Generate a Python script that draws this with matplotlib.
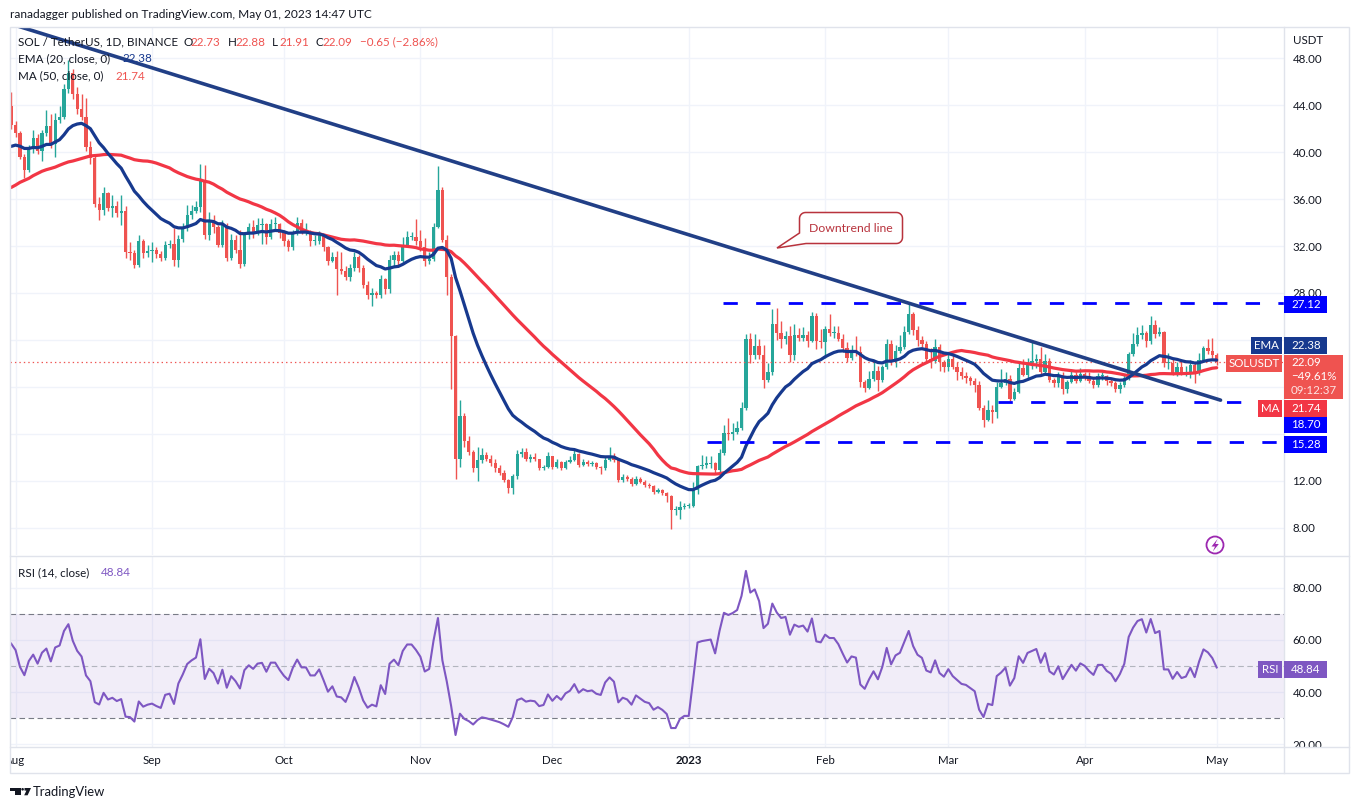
import numpy as np
import pandas as pd
import matplotlib
matplotlib.use("Agg")
import matplotlib.pyplot as plt
from matplotlib.patches import Rectangle, Polygon, Circle
from matplotlib.transforms import Bbox, TransformedBbox

plt.rcParams['font.family'] = ['Lato', 'DejaVu Sans']
plt.rcParams['lines.scale_dashes'] = False

# ------------------------------------------------------------------ data
start_date = "2022-07-31"
first_open = 43.9
closes = [
    42.3, 41.6, 39.6, 38.5, 40.3, 41.2, 40.1, 41.6, 42.2, 40.7,
    42.7, 43.0, 45.4, 46.7, 44.9, 43.7, 43.0, 40.4, 39.5, 35.6,
    35.1, 36.5, 35.2, 35.4, 34.8, 35.0, 31.5, 31.4, 30.4, 32.4,
    31.4, 31.6, 31.7, 31.3, 31.0, 32.1, 32.2, 30.8, 32.6, 33.5,
    34.6, 35.0, 35.3, 37.5, 32.9, 34.2, 33.6, 32.1, 33.8, 31.0,
    32.5, 31.7, 30.5, 32.9, 33.6, 33.1, 33.8, 33.9, 32.8, 33.9,
    33.9, 33.1, 32.4, 31.9, 33.1, 34.0, 33.2, 33.2, 32.4, 32.4,
    32.9, 31.9, 30.7, 31.1, 30.0, 29.9, 29.4, 30.1, 31.1, 30.1,
    28.7, 27.8, 28.0, 27.8, 29.2, 28.3, 30.8, 31.2, 30.7, 32.1,
    32.8, 32.8, 32.4, 31.9, 30.7, 30.9, 33.6, 36.8, 32.5, 29.4,
    24.3, 13.9, 17.5, 15.4, 14.5, 13.1, 13.8, 14.2, 13.9, 13.5,
    13.1, 12.7, 12.1, 11.4, 12.4, 14.3, 14.5, 13.9, 14.0, 13.9,
    13.1, 13.2, 14.1, 13.2, 13.6, 13.1, 13.6, 13.8, 14.3, 13.4,
    13.65, 13.45, 13.5, 13.2, 13.1, 13.8, 14.1, 13.8, 12.1, 12.35,
    12.2, 11.75, 12.2, 11.95, 11.7, 11.6, 11.1, 11.2, 11.0, 10.7,
    9.5, 9.5, 9.8, 9.9, 9.9, 11.2, 13.3, 13.4, 13.45, 13.5,
    12.9, 14.4, 16.1, 16.0, 16.2, 16.5, 18.2, 24.1, 22.7, 23.5,
    22.7, 20.6, 21.3, 25.4, 24.6, 24.1, 24.3, 22.7, 24.4, 24.2,
    24.4, 23.9, 26.0, 23.9, 23.8, 24.9, 24.6, 24.6, 24.1, 23.3,
    22.5, 23.1, 23.0, 20.4, 19.9, 20.7, 21.4, 20.6, 21.7, 23.7,
    22.1, 23.1, 23.4, 24.7, 26.2, 24.85, 24.0, 23.7, 22.4, 22.2,
    23.4, 22.1, 21.7, 22.4, 21.7, 21.3, 20.9, 20.8, 20.5, 20.2,
    18.2, 17.2, 18.05, 17.9, 20.0, 20.3, 20.7, 19.0, 19.6, 21.6,
    21.0, 22.0, 22.2, 22.4, 21.3, 22.2, 20.6, 20.3, 21.0, 19.8,
    20.4, 21.0, 20.5, 21.1, 20.9, 20.5, 20.2, 20.9, 20.9, 20.5,
    20.3, 19.8, 20.2, 20.8, 22.8, 23.7, 24.4, 24.6, 23.9, 25.3,
    24.5, 24.7, 22.0, 22.0, 21.2, 21.7, 21.2, 21.3, 21.9, 21.2,
    22.3, 23.3, 23.1, 22.73, 22.09,
]
highs = [
    45.1, 42.6, 41.8, 39.8, 40.6, 41.9, 41.5, 41.9, 43.6, 43.2,
    43.3, 43.9, 45.8, 47.8, 47.1, 45.5, 44.9, 44.6, 40.9, 39.8,
    36.2, 37.0, 36.6, 36.3, 35.8, 36.3, 35.4, 32.3, 31.7, 32.9,
    32.6, 32.1, 32.3, 31.9, 31.6, 32.4, 32.5, 33.5, 32.9, 34.0,
    35.5, 35.5, 35.8, 39.0, 38.9, 34.9, 34.6, 33.8, 34.2, 34.0,
    33.0, 32.9, 33.4, 33.2, 34.0, 34.2, 34.4, 34.4, 34.0, 34.3,
    34.5, 34.0, 33.4, 32.6, 33.4, 34.5, 34.3, 34.0, 33.4, 32.9,
    33.3, 33.0, 32.0, 31.5, 31.6, 31.5, 30.3, 30.5, 31.5, 31.2,
    30.4, 29.0, 28.4, 28.2, 29.5, 29.3, 31.2, 31.6, 31.6, 32.8,
    33.3, 33.2, 34.3, 33.4, 32.7, 31.5, 34.0, 38.8, 37.0, 32.9,
    29.6, 24.4, 18.9, 17.8, 15.8, 14.6, 14.9, 14.8, 14.5, 14.2,
    13.9, 13.4, 12.9, 12.2, 12.6, 14.6, 14.8, 14.8, 14.3, 14.4,
    13.9, 13.4, 14.5, 14.1, 13.9, 13.7, 13.8, 14.1, 14.6, 14.4,
    13.9, 13.8, 13.7, 13.6, 13.3, 14.0, 14.9, 14.4, 13.9, 12.6,
    12.5, 12.3, 12.4, 12.3, 12.1, 11.8, 11.7, 11.4, 11.3, 11.1,
    10.8, 9.9, 10.3, 10.1, 10.1, 11.9, 13.4, 14.2, 14.1, 14.1,
    13.6, 14.7, 16.8, 17.4, 16.9, 17.1, 18.7, 24.5, 24.6, 24.5,
    24.1, 23.6, 22.0, 26.6, 26.7, 25.6, 24.8, 25.2, 25.4, 25.0,
    25.1, 24.8, 26.4, 26.3, 24.9, 25.2, 26.2, 25.2, 25.2, 24.5,
    23.8, 23.6, 24.3, 23.5, 20.6, 21.4, 22.3, 21.8, 21.9, 24.1,
    24.0, 23.6, 24.4, 25.2, 27.1, 26.4, 25.2, 24.3, 23.9, 23.3,
    24.1, 23.7, 22.3, 22.8, 22.7, 22.1, 21.7, 21.3, 20.9, 20.8,
    20.5, 18.5, 18.9, 18.5, 20.4, 21.5, 21.3, 21.0, 19.9, 22.2,
    22.4, 22.5, 23.9, 22.8, 23.4, 22.8, 22.5, 20.8, 21.3, 21.3,
    20.6, 21.5, 21.3, 21.6, 21.3, 21.3, 20.8, 21.2, 21.3, 21.0,
    20.8, 20.5, 20.4, 21.0, 23.0, 24.6, 25.1, 25.3, 24.8, 26.0,
    25.7, 25.1, 24.8, 22.9, 22.4, 22.1, 22.3, 21.8, 22.3, 22.1,
    22.9, 23.5, 24.1, 24.2, 22.88,
]
lows = [
    42.0, 41.3, 39.4, 37.8, 38.3, 39.9, 39.8, 39.2, 41.4, 40.3,
    39.6, 42.5, 42.8, 45.0, 44.5, 43.2, 42.7, 40.1, 39.0, 35.3,
    34.2, 34.6, 35.0, 34.5, 34.5, 33.8, 31.0, 30.8, 30.1, 30.2,
    31.0, 31.1, 30.6, 31.0, 30.7, 30.8, 31.8, 30.3, 30.2, 32.3,
    33.3, 34.3, 34.8, 34.9, 32.6, 32.5, 33.1, 31.9, 31.9, 30.7,
    30.8, 31.4, 30.1, 30.3, 32.6, 32.7, 32.9, 32.2, 32.2, 32.6,
    33.4, 32.7, 32.0, 31.6, 31.7, 32.9, 33.0, 32.9, 32.0, 32.1,
    32.2, 31.6, 30.4, 30.6, 27.8, 29.6, 29.1, 29.0, 29.9, 29.8,
    28.4, 27.5, 26.9, 27.6, 27.6, 27.9, 28.0, 30.3, 30.2, 30.6,
    32.2, 32.5, 32.1, 31.6, 30.3, 30.5, 30.7, 33.5, 32.3, 27.8,
    19.8, 12.2, 13.2, 14.9, 14.2, 12.8, 12.0, 13.5, 13.7, 13.3,
    12.8, 12.5, 11.9, 11.0, 10.9, 12.2, 14.0, 13.7, 13.6, 13.7,
    12.9, 12.9, 13.1, 13.0, 13.1, 12.9, 13.0, 13.5, 13.7, 13.2,
    13.3, 13.3, 13.3, 13.0, 12.6, 12.9, 13.7, 13.6, 11.9, 11.9,
    12.0, 11.6, 11.7, 11.8, 11.5, 11.4, 10.9, 11.0, 10.8, 10.2,
    7.9, 9.1, 8.8, 9.6, 9.7, 9.8, 10.9, 13.0, 13.1, 13.1,
    12.6, 12.8, 14.2, 15.5, 15.5, 16.0, 16.3, 18.0, 22.0, 22.4,
    22.4, 19.9, 20.4, 21.0, 24.0, 23.3, 23.7, 22.1, 22.3, 23.9,
    23.9, 23.4, 23.8, 23.2, 23.3, 22.5, 24.3, 24.2, 23.9, 23.0,
    22.1, 22.3, 22.6, 20.0, 19.6, 19.8, 20.5, 19.7, 20.4, 21.5,
    21.9, 21.7, 22.9, 23.2, 24.5, 24.4, 23.5, 23.4, 22.2, 21.6,
    22.0, 21.4, 21.3, 21.4, 21.5, 20.6, 20.7, 20.3, 20.2, 19.6,
    18.0, 16.6, 17.1, 16.9, 17.4, 19.9, 20.2, 18.8, 18.9, 19.5,
    20.9, 20.7, 21.5, 21.6, 21.1, 21.0, 20.4, 20.0, 20.0, 19.4,
    19.5, 20.3, 20.3, 20.4, 20.6, 20.3, 19.9, 20.0, 20.6, 20.2,
    20.1, 19.6, 19.5, 20.0, 20.6, 22.6, 23.5, 24.1, 23.4, 23.7,
    24.2, 24.3, 21.7, 21.5, 21.0, 20.9, 21.0, 20.9, 20.8, 20.3,
    21.0, 22.1, 22.8, 22.5, 21.91,
]
# closes of 2022-06-01 .. 2022-07-30 (left of the visible window), only used to warm up the indicators
warmup_closes = [
    39.0, 40.5, 39.0, 39.5, 39.7, 40.5, 39.0, 38.5, 37.6, 35.0,
    33.5, 31.5, 28.0, 30.0, 32.0, 29.5, 30.5, 32.5, 35.5, 35.5,
    37.0, 35.0, 38.0, 40.0, 41.0, 38.5, 37.5, 35.0, 34.0, 34.0,
    33.5, 34.0, 34.3, 36.3, 36.0, 36.2, 38.0, 37.3, 37.3, 35.4,
    33.7, 32.4, 35.1, 36.4, 37.9, 39.1, 38.7, 42.3, 41.9, 41.7,
    42.3, 40.9, 40.5, 40.8, 38.5, 38.2, 42.0, 43.6, 43.7, 43.9,
]

price_ticks = [8, 12, 16, 20, 24, 28, 32, 36, 40, 44, 48]
hidden_price_ticks = [16, 20, 24]          # covered by the price-axis label boxes
rsi_ticks = [20, 40, 60, 80]
month_labels = ["Aug", "Sep", "Oct", "Nov", "Dec", "2023", "Feb", "Mar", "Apr", "May"]

# drawings on the chart
trend_dates = ["2022-07-30 00:00", "2023-05-01 21:00"]
trend_prices = [51.01, 18.88]
level_values = [27.12, 18.70, 15.28]
level_start_dates = ["2023-01-08 20:00", "2023-03-12 08:00", "2023-01-05 03:00"]
last_price = 22.09
ema_label, ma_label, rsi_label = "22.38", "21.74", "48.84"

# ------------------------------------------------------------------ layout
W, H, DPI = 1358, 810, 100
origin = pd.Timestamp("2022-08-01")
DAY = pd.Timedelta(days=1)
dates = pd.date_range(start_date, periods=len(closes), freq="D")
x = np.asarray((dates - origin) / DAY, dtype=float)

c = np.array(closes)
o = np.array([first_open] + closes[:-1])
hi = np.maximum(np.array(highs), np.maximum(o, c))
lo = np.minimum(np.array(lows), np.minimum(o, c))

allc = pd.Series(warmup_closes + closes)
nw = len(warmup_closes)
ema = allc.ewm(span=20, adjust=False).mean().values[nw:]
ma = allc.rolling(50).mean().values[nw:]
delta = allc.diff()
gain = delta.clip(lower=0).ewm(alpha=1 / 14, adjust=False).mean()
loss = (-delta.clip(upper=0)).ewm(alpha=1 / 14, adjust=False).mean()
rsi = (100 - 100 / (1 + gain / loss)).values[nw:]

UP, DN = "#26a69a", "#ef5350"
EMA_C, MA_C, TREND_C, LEVEL_C = "#17398e", "#f23645", "#213f86", "#0000ff"
RSI_C, TXT, GRID, BORDER = "#7e57c2", "#131722", "#f0f3fa", "#e0e3eb"
LEG = 8.4

fig = plt.figure(figsize=(W / DPI, H / DPI), dpi=DPI)
fig.patch.set_facecolor("white")


def frac_rect(x0, y0, x1, y1):
    return [x0 / W, 1 - y1 / H, (x1 - x0) / W, (y1 - y0) / H]


def fig_clip(x0, y0, x1, y1):
    return TransformedBbox(Bbox.from_extents(x0 / W, 1 - y1 / H, x1 / W, 1 - y0 / H), fig.transFigure)


ax = fig.add_axes(frac_rect(10, 27, 1284, 555))
ax2 = fig.add_axes(frac_rect(10, 557, 1284, 747), sharex=ax)
XL = (-1.27, 288.3)
ax.set_xlim(*XL)
ax.set_ylim(5.70, 50.64)
ax2.set_ylim(18.85, 91.92)

month_x = np.asarray((pd.date_range("2022-08-01", "2023-05-01", freq="MS") - origin) / DAY, dtype=float)

for a in (ax, ax2):
    for s in a.spines.values():
        s.set_visible(False)
    a.set_facecolor("white")
    a.set_axisbelow(True)
    a.grid(True, color=GRID, lw=1)
    a.yaxis.tick_right()
    a.tick_params(axis="y", length=0, pad=6, labelsize=8.3, labelcolor=TXT)
    a.set_xticks(month_x)

ax.tick_params(axis="x", length=0, labelbottom=False)
ax.set_yticks(price_ticks)
ax.set_yticklabels(["" if v in hidden_price_ticks else f"{v:.2f}" for v in price_ticks])
ax2.set_yticks(rsi_ticks)
ax2.set_yticklabels([f"{v:.2f}" for v in rsi_ticks])
ax2.set_xticklabels(month_labels)
ax2.tick_params(axis="x", length=0, pad=5.5, labelsize=8.3, labelcolor=TXT)
for t in ax2.xaxis.get_major_ticks():
    t.label1.set_clip_on(True)
    t.label1.set_clip_box(fig_clip(10, 747, 1284, 773))
    if t.label1.get_text() == "2023":
        t.label1.set_fontweight("bold")
for t in ax2.yaxis.get_major_ticks():
    t.label2.set_clip_on(True)
    t.label2.set_clip_box(fig_clip(1284, 557, 1349, 747))

# candles
col = np.where(c >= o, UP, DN)
ax.vlines(x, lo, hi, colors=col, lw=1, zorder=2)
body_h = np.maximum(np.abs(c - o), 0.09)
ax.bar(x, body_h, bottom=np.minimum(o, c), width=0.74, color=col, lw=0, zorder=3)

# moving averages
ax.plot(x, ma, color=MA_C, lw=2.3, zorder=4, solid_capstyle="round")
ax.plot(x, ema, color=EMA_C, lw=2.3, zorder=5, solid_capstyle="round")

# downtrend line
tx = [(pd.Timestamp(d) - origin) / DAY for d in trend_dates]
ax.plot(tx, trend_prices, color=TREND_C, lw=2.6, zorder=6, solid_capstyle="round")

# horizontal levels
for lv, sd in zip(level_values, level_start_dates):
    x0 = (pd.Timestamp(sd) - origin) / DAY
    ax.plot([x0, XL[1]], [lv, lv], color=LEVEL_C, lw=2.0, dashes=(10.3, 13.2), zorder=6)

# last price line
ax.axhline(last_price, color=DN, lw=0.9, ls=(0, (1, 2.2)), zorder=3)

# RSI
ax2.axhspan(30, 70, color=RSI_C, alpha=0.1, lw=0, zorder=1)
ax2.axhline(70, color="#787b86", lw=0.8, dashes=(4, 2.5), zorder=2)
ax2.axhline(30, color="#787b86", lw=0.8, dashes=(4, 2.5), zorder=2)
ax2.axhline(50, color="#b2b5be", lw=0.8, dashes=(4, 2.5), zorder=2)
ax2.plot(x, rsi, color=RSI_C, lw=1.5, zorder=3)

# ------------------------------------------------------------------ overlay (pixel coords)
ov = fig.add_axes([0, 0, 1, 1])
ov.set_xlim(0, W)
ov.set_ylim(H, 0)
ov.axis("off")
ov.set_zorder(10)


def box(x0, y0, x1, y1, color):
    ov.add_patch(Rectangle((x0, y0), x1 - x0, y1 - y0, facecolor=color, edgecolor="none", zorder=3))


def txt(xp, yp, s, color=TXT, size=8.3, ha="left", **kw):
    ov.text(xp, yp, s, color=color, fontsize=size, ha=ha, va="center", zorder=4, **kw)


# frame
ov.add_patch(Rectangle((9.5, 27), 1339.5, 746, fill=False, edgecolor=BORDER, lw=1, zorder=1))
ov.plot([1284, 1284], [27, 773], color=BORDER, lw=1, zorder=1)
ov.plot([9.5, 1349], [556, 556], color=BORDER, lw=1, zorder=1)
ov.plot([9.5, 1349], [747, 747], color=BORDER, lw=1, zorder=1)

# header + legends
txt(10, 15, "ranadagger published on TradingView.com, May 01, 2023 14:47 UTC", size=8.6)
txt(18, 42, "SOL / TetherUS, 1D, BINANCE", size=LEG)
for xp, lab, val in [(183, "O", "22.73"), (228, "H", "22.88"), (272, "L", "21.91"), (315, "C", "22.09")]:
    txt(xp, 42, lab, size=LEG)
    txt(xp + 7, 42, val, color=DN, size=LEG)
txt(360, 42, "\u22120.65 (\u22122.86%)", color=DN, size=LEG)
txt(18, 59, "EMA (20, close, 0)", size=LEG)
txt(122, 59, ema_label, color=EMA_C, size=LEG)
txt(18, 76, "MA (50, close, 0)", size=LEG)
txt(115, 76, ma_label, color=DN, size=LEG)
txt(18, 573, "RSI (14, close)", size=LEG)
txt(101, 573, rsi_label, color=RSI_C, size=LEG)
txt(1293, 41, "USDT", size=8.3)

# price-axis labels
box(1284, 296, 1327, 313, LEVEL_C)
txt(1291, 304.5, "27.12", color="white")
box(1251, 337, 1282, 354, EMA_C)
txt(1266.5, 345.5, "EMA", color="white", ha="center")
box(1284, 337, 1327, 354, EMA_C)
txt(1291, 345.5, ema_label, color="white")
box(1226, 355, 1282, 372, DN)
txt(1254, 363.5, "SOLUSDT", color="white", ha="center")
box(1284, 355, 1343, 399, DN)
txt(1291, 363, f"{last_price:.2f}", color="white")
txt(1291, 376.5, "\u221249.61%", color="white")
txt(1291, 390, "09:12:37", color="#fde3e3")
box(1258, 400, 1282, 417, MA_C)
txt(1270, 408.5, "MA", color="white", ha="center")
box(1284, 400, 1327, 417, MA_C)
txt(1291, 408.5, ma_label, color="white")
box(1284, 417, 1327, 433, LEVEL_C)
txt(1291, 425, "18.70", color="white")
box(1284, 436, 1327, 453, LEVEL_C)
txt(1291, 444.5, "15.28", color="white")
box(1258, 661, 1282, 678, RSI_C)
txt(1270, 669.5, "RSI", color="white", ha="center")
box(1284, 661, 1327, 678, RSI_C)
txt(1291, 669.5, rsi_label, color="white")

# callout "Downtrend line"
x0c, y0c, x1c, y1c, r = 799.5, 212.5, 902.5, 243.5, 6
pts = []
for cx, cy, a0, a1 in [(x0c + r, y0c + r, 180, 270), (x1c - r, y0c + r, 270, 360), (x1c - r, y1c - r, 0, 90)]:
    t = np.radians(np.linspace(a0, a1, 8))
    pts += list(zip(cx + r * np.cos(t), cy + r * np.sin(t)))
pts += [(806, y1c), (777, 248), (x0c, 233)]
CALL = "#b8333d"
ov.add_patch(Polygon(pts, closed=True, facecolor="white", edgecolor=CALL, lw=1.1, zorder=3))
txt(851, 228, "Downtrend line", color=CALL, size=8.8, ha="center")

# lightning icon
ov.add_patch(Circle((1215, 545), 8.5, fill=False, edgecolor="#9c27b0", lw=1.3, zorder=3))
ov.add_patch(Polygon([(1217.5, 539), (1211.5, 546.5), (1215, 546.5), (1212.8, 551.5), (1218.8, 544),
                      (1215.3, 544)], closed=True, facecolor="#9c27b0", edgecolor="none", zorder=3))

# TradingView logo
ov.add_patch(Rectangle((10, 788), 10.7, 2.6, facecolor=TXT, edgecolor="none"))
ov.add_patch(Rectangle((15.2, 788), 5.5, 7.3, facecolor=TXT, edgecolor="none"))
ov.add_patch(Circle((22.6, 789.3), 1.3, facecolor=TXT, edgecolor="none"))
ov.add_patch(Polygon([(24.5, 788), (31, 788), (27.6, 795.3), (24.2, 795.3), (26.4, 790.6), (24.5, 790.6)],
                     closed=True, facecolor=TXT, edgecolor="none"))
txt(33, 792, "TradingView", size=9.4)

fig.savefig("out.png", dpi=DPI, facecolor="white")
